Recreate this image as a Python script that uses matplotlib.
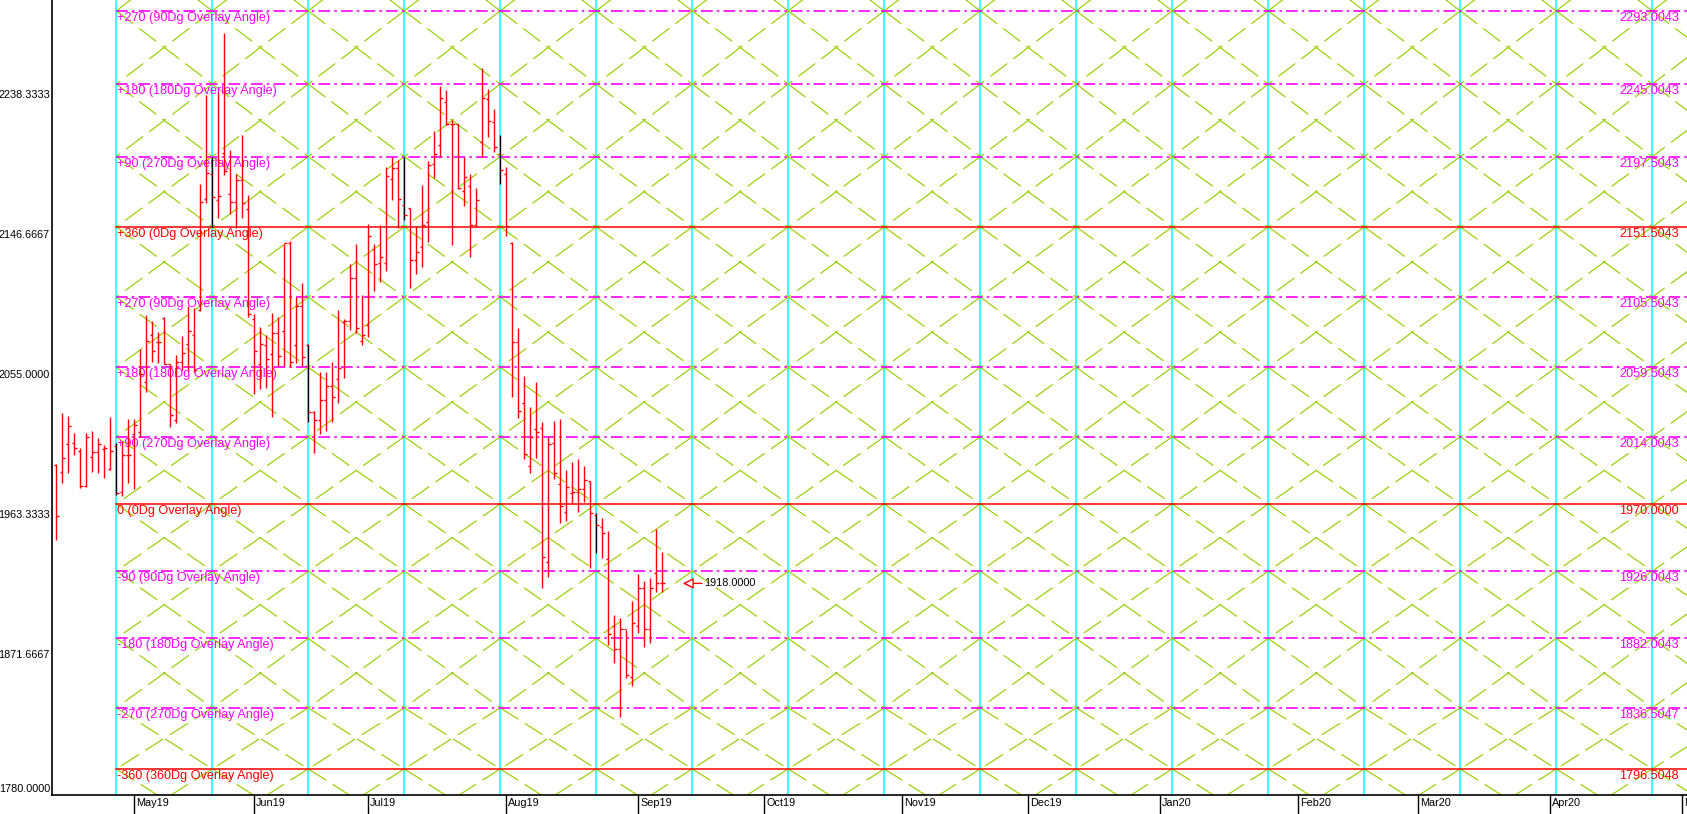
import numpy as np
import matplotlib.pyplot as plt
import matplotlib.transforms as mtransforms

plt.rcParams['font.family'] = ['Liberation Sans', 'DejaVu Sans']

# daily OHLC bars, x = trading-day index (0 = first cycle line)
bar_start = -10
opens = [1995.5, 1991, 2009, 2010, 2005, 1982, 2001, 2004, 2006, 1993,
         2008, 1978, 2002, 2016, 2017, 2050, 2081, 2076, 2092, 2061.4,
         2025, 2063, 2075, 2081, 2097, 2170, 2186, 2169, 2200, 2173,
         2167.6, 2182, 2163, 2091, 2062, 2074, 2068, 2082, 2083, 2141,
         2074, 2100, 2074, 2030, 2025, 2038, 2047, 2052, 2089, 2090,
         2118, 2077, 2087.5, 2137, 2128, 2128, 2183, 2190, 2166, 2163.7,
         2130, 2138, 2155, 2193, 2205, 2233, 2219, 2219, 2175, 2178,
         2153, 2207, 2235, 2220, 2199, 2186, 2141, 2076, 2036, 1995,
         2019, 2020, 1932, 2010, 1983, 1965, 1977, 1978, 1980, 1985,
         1963, 1955, 1934, 1890, 1875, 1888, 1857, 1890, 1915, 1888,
         1925, 1918]
highs = [1996, 2029.4, 2027.5, 2016.3, 2006.9, 2016.7, 2017.8, 2013, 2008.6, 2026.8,
         2009.7, 2011.3, 2025.5, 2025.8, 2071.2, 2093.7, 2089.7, 2082.4, 2092.7, 2061.4,
         2067.6, 2080, 2099.7, 2098.4, 2179.6, 2237.9, 2197.5, 2240, 2278.5, 2201.9,
         2186, 2211.7, 2172.4, 2094.5, 2085.7, 2080.7, 2094.9, 2092.7, 2140.3, 2142.3,
         2105.4, 2115, 2074.8, 2031.1, 2056.7, 2056.7, 2063.2, 2097.1, 2091, 2127.2,
         2140.3, 2106.9, 2153.2, 2140.3, 2152.7, 2190.9, 2197.5, 2195.3, 2197.5, 2163.7,
         2151.8, 2179, 2194.9, 2214.5, 2243.8, 2241.2, 2221.5, 2218.9, 2197.1, 2186,
         2176.8, 2255.4, 2241.6, 2228.5, 2211.7, 2190.5, 2141.8, 2085.3, 2053.8, 2033.3,
         2049.6, 2023.9, 2014.5, 2024.6, 2025.7, 1992.3, 1997.6, 1999.5, 1994.9, 1985.1,
         1963.9, 1961, 1952.3, 1897.3, 1895.5, 1887.5, 1906.5, 1924.2, 1919.6, 1921.3,
         1953.4, 1938.3]
lows = [1946.4, 1983.6, 1990.5, 2002, 1980.7, 1980.9, 1991.2, 1990.5, 1986.8, 1992.3,
        1975.9, 1975.2, 1984, 1979.6, 2014.1, 2043.4, 2063.1, 2062.5, 2061.4, 2020.2,
        2022.8, 2057.7, 2057.7, 2056.4, 2096.4, 2166.9, 2151.6, 2157.5, 2185.5, 2159.7,
        2150.6, 2157.1, 2092.7, 2041.9, 2045.1, 2045.8, 2027.2, 2060.4, 2060.4, 2060,
        2062.6, 2060.4, 2023.9, 2003.2, 2015.9, 2018, 2023.9, 2036, 2052.3, 2084,
        2081.8, 2074.1, 2079.2, 2109.7, 2115.6, 2122.8, 2169.1, 2150.6, 2156, 2111.7,
        2120.6, 2125.5, 2141.8, 2183.3, 2197.1, 2218.2, 2139.6, 2176.3, 2165.4, 2131.6,
        2152.1, 2197.1, 2210.6, 2200.4, 2179.6, 2145.7, 2040.3, 2026, 1999.5, 1990.5,
        2000.3, 1914.8, 1922.5, 1986.2, 1957.8, 1959.1, 1970, 1965, 1971.5, 1927.9,
        1937.7, 1934.8, 1877.6, 1866, 1830.7, 1855.8, 1851, 1885.3, 1876.6, 1879.2,
        1912.6, 1912.6]
closes = [1962, 2000, 2021, 2007, 1982, 2014, 2004, 2009, 2007, 2005,
          1977, 2002, 2002, 2022, 2055, 2077, 2070, 2076, 2062, 2028,
          2063, 2069, 2083, 2058, 2168, 2186.6, 2171, 2172, 2188, 2167.6,
          2182, 2167, 2094.5, 2070, 2075, 2065, 2082, 2067, 2141, 2063,
          2100, 2066, 2030, 2025, 2038, 2047, 2040, 2059, 2090, 2118,
          2085, 2081, 2145.5, 2127, 2132, 2185, 2190, 2170, 2159, 2130,
          2135, 2153, 2192, 2199, 2236, 2219, 2219, 2177, 2184, 2153,
          2169, 2236, 2221, 2204, 2189, 2152, 2076, 2031, 2003, 2014,
          2017, 1935, 2009, 1990, 1969, 1981, 1978, 1980, 1986, 1964,
          1956, 1951, 1885, 1875, 1888, 1858, 1892, 1915, 1888, 1915,
          1918, 1918.0]

# overlay levels
levels = [2293.0043, 2245.0043, 2197.5043, 2151.5043, 2105.5043, 2059.5043,
          2014.0043, 1970.0000, 1926.0043, 1882.0043, 1836.5047, 1796.5048]
level_tags = ['+270 (90Dg Overlay Angle)', '+180 (180Dg Overlay Angle)',
              '+90 (270Dg Overlay Angle)', '+360 (0Dg Overlay Angle)',
              '+270 (90Dg Overlay Angle)', '+180 (180Dg Overlay Angle)',
              '+90 (270Dg Overlay Angle)', '0 (0Dg Overlay Angle)',
              '-90 (90Dg Overlay Angle)', '-180 (180Dg Overlay Angle)',
              '-270 (270Dg Overlay Angle)', '-360 (360Dg Overlay Angle)']
level_major = [False, False, False, True, False, False,
               False, True, False, False, False, True]

y_ticks = [2238.3333, 2146.6667, 2055.0000, 1963.3333, 1871.6667, 1780.0000]
month_labels = ['May19', 'Jun19', 'Jul19', 'Aug19', 'Sep19', 'Oct19', 'Nov19',
                'Dec19', 'Jan20', 'Feb20', 'Mar20', 'Apr20', 'May20']
month_idx = [3, 23, 42, 65, 87, 108, 131, 152, 174, 197, 217, 239, 261]
last_price = 1918.0
cycle = 16          # bars between time-cycle lines
n_cycles = 17

W, H = 1687, 814
fig = plt.figure(figsize=(W / 100, H / 100), dpi=100)
ax = fig.add_axes([52 / W, 19 / H, (W - 52) / W, 795 / H])
x_left, x_right = (52 - 116.3) / 6, (W - 116.3) / 6
ax.set_xlim(x_left, x_right)
ax.set_ylim(1779.4, 2300.1)

for s in ['top', 'right']:
    ax.spines[s].set_visible(False)
ax.spines['left'].set_linewidth(1.2)
ax.spines['bottom'].set_linewidth(1.2)

# time cycle lines
for k in range(n_cycles):
    ax.axvline(k * cycle, color='#00ffff', lw=1.1, zorder=1)

# diagonal grid between cycles and levels
rows = [levels[0] + (levels[0] - levels[1])] + levels + [levels[-1] - (levels[-2] - levels[-1])]
for r in range(len(rows) - 1):
    top, bot = rows[r], rows[r + 1]
    for k in range(n_cycles):
        x0, x1 = k * cycle, (k + 1) * cycle
        ax.plot([x0, x1], [top, bot], color='#99cc00', lw=0.85, dashes=(18, 6.5), zorder=1)
        ax.plot([x1, x0], [top, bot], color='#99cc00', lw=0.85, dashes=(18, 6.5), zorder=1)

# overlay levels
below = mtransforms.offset_copy(ax.transData, fig=fig, x=0, y=-1, units='dots')
right_tr = mtransforms.blended_transform_factory(ax.transAxes, below)
for lv, tag, major in zip(levels, level_tags, level_major):
    col = '#ff0000' if major else '#ff00ff'
    if major:
        ax.plot([0, x_right + 5], [lv, lv], color=col, lw=1.1, zorder=2)
    else:
        ax.plot([0, x_right + 5], [lv, lv], color=col, lw=1.2, zorder=2,
                linestyle=(0, (7, 2.5, 1.5, 2.5)))
    ax.text(0.05, lv, tag, transform=below, color=col, fontsize=9.1, va='top', ha='left', zorder=3)
    ax.text(1 - 8 / (W - 52), lv, f'{lv:.4f}', transform=right_tr, color=col,
            fontsize=9.1, va='top', ha='right', zorder=3)

# price bars
xs = np.arange(bar_start, bar_start + len(opens))
for x, o, h, l, c in zip(xs, opens, highs, lows, closes):
    vcol = 'black' if x % cycle == 0 else '#ff0000'
    ax.plot([x, x], [l, h], color=vcol, lw=1.0, zorder=4, solid_capstyle='butt')
    ax.plot([x - 0.42, x], [o, o], color='#ff0000', lw=1.0, zorder=4, solid_capstyle='butt')
    ax.plot([x, x + 0.42], [c, c], color='#ff0000', lw=1.0, zorder=4, solid_capstyle='butt')

# last price marker
tip = xs[-1] + 3.4
ax.annotate('', xy=(tip, last_price), xytext=(tip + 3.2, last_price),
            arrowprops=dict(arrowstyle='-|>', color='#ff0000', lw=1.0, fc='white',
                            mutation_scale=16, shrinkA=0, shrinkB=0), zorder=5)
ax.text(tip + 3.6, last_price, f'{last_price:.4f}', fontsize=7.8, va='center', ha='left', zorder=5)

# y axis
ax.set_yticks(y_ticks)
ax.set_yticklabels([f'{v:.4f}' for v in y_ticks], fontsize=7.8)
ax.tick_params(axis='y', length=0, pad=1.5)
ax.get_yticklabels()[-1].set_va('bottom')

# month axis
ax.set_xticks([])
btr = mtransforms.blended_transform_factory(ax.transData, ax.transAxes)
for mi, ml in zip(month_idx, month_labels):
    ax.plot([mi, mi], [0, -19 / 795], transform=btr, color='black', lw=1.0, clip_on=False)
    ax.text(mi + 0.3, -0.004, ml, transform=btr, fontsize=7.8, va='top', ha='left', clip_on=False)

fig.savefig('out.png', dpi=100)
